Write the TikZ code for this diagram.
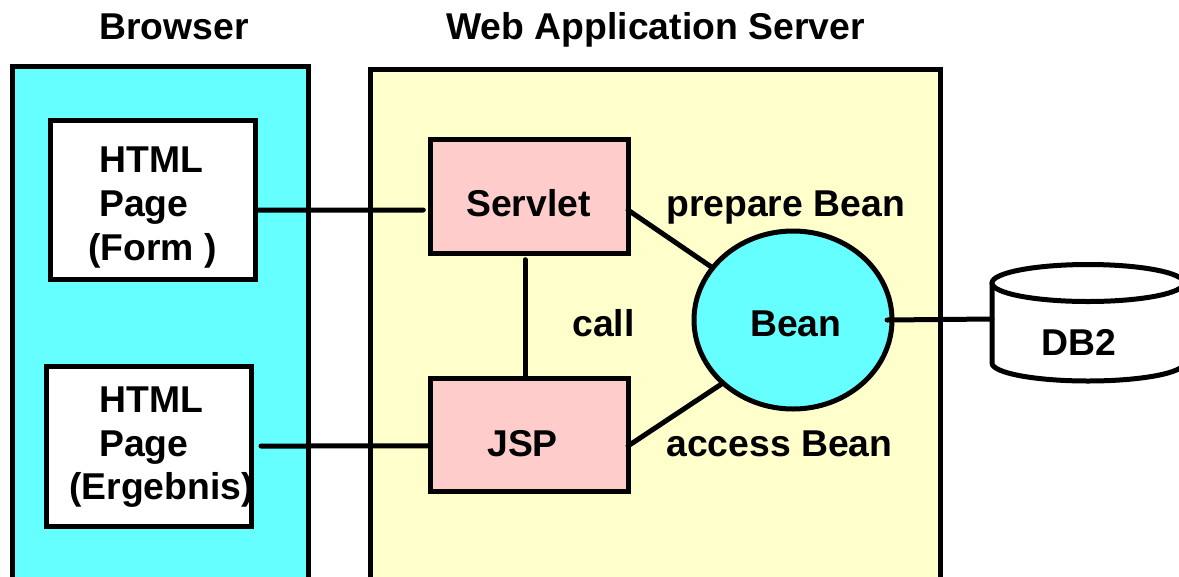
\documentclass[tikz,border=0pt]{standalone}
\usepackage{fontspec}
\setmainfont{Liberation Sans}
\usetikzlibrary{shapes.geometric}
\definecolor{compred}{RGB}{255,204,204}
\definecolor{browsercyan}{RGB}{102,255,255}
\definecolor{servyellow}{RGB}{255,255,204}
\tikzset{
  boxsize/.style 2 args={minimum width=#1*0.75pt, minimum height=#2*0.75pt, inner sep=0pt, outer sep=0pt},
  panel/.style={draw, line width=3.75pt},
  pagebox/.style={draw, line width=3.75pt, fill=white},
  compbox/.style={draw, line width=3.75pt, fill=compred},
  link/.style={line width=3.75pt, line cap=round},
  caption/.style={font=\bfseries\fontsize{28}{32}\selectfont, inner sep=0pt, anchor=base west},
}
\begin{document}
\begin{tikzpicture}[x=0.75pt,y=-0.75pt]
  \useasboundingbox (0,0) rectangle (1179,576);
  \clip (0,0) rectangle (1179,576);
  % panels run off the bottom edge
  \node[panel, fill=browsercyan, boxsize={296}{524}] (browserbox) at (160,328) {};
  \node[panel, fill=servyellow, boxsize={570}{521}] (serverbox) at (655.5,329.5) {};
  \node[caption] (browser) at (99,39) {Browser};
  \node[caption] (server) at (446,39) {Web Application Server};
  \node[pagebox, boxsize={205}{159}] (formbox) at (152.5,199.5) {};
  \node[pagebox, boxsize={205}{160}] (ergbox) at (148.5,446) {};
  \node[caption] (formone) at (99,172) {HTML};
  \node[caption] (formtwo) at (99,216) {Page};
  \node[caption] (formthree) at (88,260) {(Form )};
  \node[caption] (ergone) at (99,412) {HTML};
  \node[caption] (ergtwo) at (99,456) {Page};
  \node[caption] (ergthree) at (69,499) {(Ergebnis)};
  \node[compbox, boxsize={198}{114}] (servletbox) at (529,196) {};
  \node[compbox, boxsize={198}{113}] (jspbox) at (529,434.5) {};
  \node[caption] (servlet) at (466,216) {Servlet};
  \node[caption] (jsp) at (487,456) {JSP};
  \node[caption] (call) at (572,336) {call};
  \node[caption] (prepare) at (666,216) {prepare Bean};
  \node[caption] (access) at (666,456) {access Bean};
  \node[ellipse, draw, line width=3.75pt, fill=browsercyan, boxsize={198}{178}] (beanbox) at (793,320) {};
  \node[caption] (bean) at (750,336) {Bean};
  \draw[link] ([xshift=1.5pt,yshift=-7.9pt]formbox.east) -- ([xshift=-5pt,yshift=-10.5pt]servletbox.west);
  \draw[link] ([xshift=7.5pt]ergbox.east) -- ([xshift=-1.5pt,yshift=-8.6pt]jspbox.west);
  \draw[link] ([xshift=-3pt,yshift=-5pt]servletbox.south) -- ([xshift=-3pt]jspbox.north);
  \draw[link] ([yshift=-10.5pt]servletbox.east) -- (beanbox.147.6);
  \draw[link] ([yshift=-8.6pt]jspbox.east) -- (beanbox.222.8);
  % cylinder
  \draw[line width=3.75pt, fill=white] (992,283) -- (992,363) arc[start angle=180, end angle=0, x radius=96, y radius=18] -- (1184,283);
  \node[ellipse, draw, line width=3.75pt, fill=white, boxsize={192}{37}] (dbtop) at (1088,283) {};
  \coordinate (dbside) at (992,319);
  \draw[link] ([xshift=-3.75pt]beanbox.east) -- (dbside);
  \node[caption] (db) at (1041,355) {DB2};
\end{tikzpicture}
\end{document}
